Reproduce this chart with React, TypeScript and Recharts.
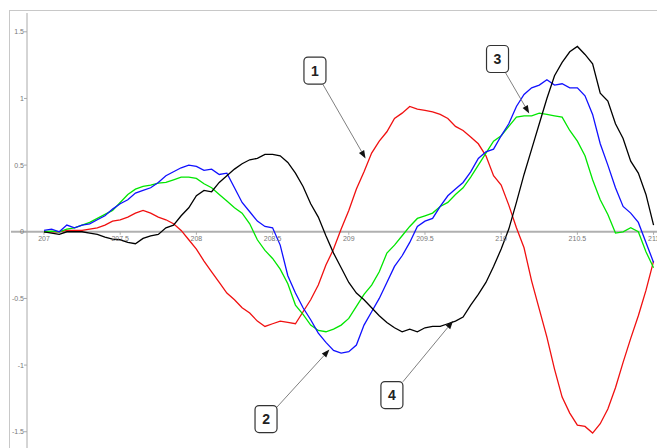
import React from 'react';
import { LineChart, Line, XAxis, YAxis, ReferenceLine, ReferenceDot } from 'recharts';

// sampled every 0.05 from 207 to 211
const red = [
  0, 0, 0, 0.01, 0.01, 0.01, 0.02, 0.03, 0.05, 0.08, 0.09, 0.11, 0.14, 0.16, 0.14, 0.11, 0.09, 0.06, 0.01, -0.06,
  -0.13, -0.22, -0.3, -0.38, -0.46, -0.51, -0.57, -0.61, -0.67, -0.71, -0.69, -0.67, -0.68, -0.69, -0.6, -0.51, -0.4, -0.25, -0.13, 0.02,
  0.16, 0.32, 0.45, 0.59, 0.68, 0.75, 0.85, 0.89, 0.94, 0.92, 0.91, 0.9, 0.88, 0.85, 0.79, 0.76, 0.71, 0.66, 0.57, 0.42,
  0.35, 0.2, 0.03, -0.12, -0.37, -0.58, -0.79, -1.03, -1.24, -1.36, -1.45, -1.46, -1.51, -1.44, -1.33, -1.17, -0.98, -0.8, -0.63, -0.44,
  -0.22,
];
const blue = [
  0.01, 0.02, 0, 0.05, 0.03, 0.05, 0.06, 0.09, 0.12, 0.17, 0.21, 0.24, 0.29, 0.31, 0.33, 0.37, 0.42, 0.45, 0.48, 0.5,
  0.49, 0.46, 0.47, 0.43, 0.44, 0.33, 0.22, 0.15, 0.08, 0.04, 0.03, -0.1, -0.33, -0.46, -0.57, -0.66, -0.76, -0.83, -0.89, -0.91,
  -0.9, -0.85, -0.7, -0.6, -0.5, -0.38, -0.26, -0.18, -0.08, 0.04, 0.08, 0.1, 0.19, 0.27, 0.32, 0.37, 0.45, 0.55, 0.6, 0.62,
  0.72, 0.81, 0.94, 1.03, 1.08, 1.1, 1.14, 1.1, 1.11, 1.08, 1.08, 1.02, 0.88, 0.66, 0.5, 0.33, 0.19, 0.14, 0.07, -0.08,
  -0.23,
];
const green = [
  0, 0.005, 0, 0.02, 0.03, 0.05, 0.07, 0.1, 0.13, 0.16, 0.22, 0.28, 0.32, 0.34, 0.35, 0.365, 0.37, 0.39, 0.41, 0.41,
  0.4, 0.36, 0.33, 0.28, 0.23, 0.18, 0.14, 0.06, -0.06, -0.14, -0.2, -0.28, -0.39, -0.55, -0.62, -0.7, -0.74, -0.75, -0.73, -0.7,
  -0.65, -0.56, -0.47, -0.4, -0.3, -0.16, -0.1, -0.03, 0.04, 0.1, 0.12, 0.14, 0.19, 0.22, 0.28, 0.33, 0.41, 0.5, 0.59, 0.68,
  0.72, 0.79, 0.86, 0.87, 0.87, 0.89, 0.88, 0.87, 0.86, 0.76, 0.68, 0.57, 0.39, 0.24, 0.13, -0.01, 0, 0.03, 0, -0.15,
  -0.27,
];
const black = [
  0, -0.01, -0.02, 0, 0, 0, -0.01, -0.02, -0.04, -0.055, -0.06, -0.08, -0.09, -0.05, -0.03, -0.02, 0.03, 0.05, 0.12, 0.18,
  0.27, 0.31, 0.3, 0.37, 0.42, 0.47, 0.51, 0.54, 0.55, 0.58, 0.58, 0.57, 0.52, 0.44, 0.34, 0.21, 0.11, -0.03, -0.16, -0.27,
  -0.38, -0.46, -0.51, -0.57, -0.63, -0.68, -0.72, -0.75, -0.73, -0.75, -0.72, -0.71, -0.71, -0.69, -0.67, -0.64, -0.55, -0.47, -0.38, -0.26,
  -0.13, 0.02, 0.22, 0.43, 0.62, 0.81, 1.0, 1.17, 1.27, 1.35, 1.39, 1.33, 1.26, 1.04, 0.98, 0.81, 0.7, 0.53, 0.44, 0.28,
  0.05,
];
const xs = red.map((_, i) => +(207 + i * 0.05).toFixed(2));

const xTicks = [207, 207.5, 208, 208.5, 209, 209.5, 210, 210.5, 211];
const yTicks = [-1.5, -1, -0.5, 0, 0.5, 1, 1.5];

// callouts: label, arrow tip, box centre (data coords)
const noteLabels = ['1', '2', '3', '4'];
const noteTips = [[209.11, 0.55], [208.873, -0.884], [210.184, 0.887], [209.684, -0.67]];
const noteBoxes = [[208.778, 1.209], [208.457, -1.405], [209.976, 1.296], [209.283, -1.225]];

const data = xs.map((x, i) => ({ x, red: red[i], blue: blue[i], green: green[i], black: black[i] }));

const BOX_W = 22;
const BOX_H = 27;

const Arrow = (p: any) => {
  const dx = p.x2 - p.x1;
  const dy = p.y2 - p.y1;
  const t = Math.min(BOX_W / 2 / Math.abs(dx || 1e-6), BOX_H / 2 / Math.abs(dy || 1e-6));
  const sx = p.x1 + dx * t;
  const sy = p.y1 + dy * t;
  const len = Math.hypot(dx, dy);
  const ux = dx / len;
  const uy = dy / len;
  const bx = p.x2 - ux * 8;
  const by = p.y2 - uy * 8;
  const head = `${p.x2},${p.y2} ${bx - uy * 3},${by + ux * 3} ${bx + uy * 3},${by - ux * 3}`;
  return (
    <g>
      <line x1={sx} y1={sy} x2={bx} y2={by} stroke="#808080" strokeWidth={1} />
      <polygon points={head} fill="#111" />
    </g>
  );
};

const NoteBox = (label: string) => (p: any) => (
  <g>
    <rect x={p.cx - BOX_W / 2} y={p.cy - BOX_H / 2} width={BOX_W} height={BOX_H} rx={4} fill="#fff" stroke="#333" strokeWidth={1.2} />
    <text x={p.cx} y={p.cy + 5} textAnchor="middle" fontSize={14} fontWeight="bold" fontFamily="Liberation Sans, Arial" fill="#222">
      {label}
    </text>
  </g>
);

const ZeroLine = (p: any) => (
  <line x1={p.x1 - 16} y1={p.y1} x2={p.x2} y2={p.y2} stroke="#b0b0b0" strokeWidth={2} />
);

export default function App() {
  return (
    <div style={{ position: 'absolute', left: 0, top: 0, width: 657, height: 448, overflow: 'hidden', background: '#fff' }}>
      <div
        style={{
          position: 'absolute',
          left: 9,
          top: 10,
          width: 700,
          height: 500,
          borderLeft: '1px solid #c8c8c8',
          borderTop: '1px solid #c8c8c8',
        }}
      />
      <div style={{ position: 'absolute', left: 0, top: 0 }}>
        <LineChart width={657} height={448} data={data} margin={{ top: 13, right: 0, bottom: 0, left: 0 }}>
          <XAxis type="number" dataKey="x" domain={[206.8885, 211.0225]} hide allowDataOverflow />
          <YAxis
            type="number"
            domain={[-1.622, 1.641]}
            ticks={yTicks}
            width={27}
            tickSize={3}
            tickMargin={0}
            allowDataOverflow
            axisLine={{ stroke: '#aaa' }}
            tickLine={{ stroke: '#aaa' }}
            tick={{ fontSize: 7, fill: '#777', fontFamily: 'Liberation Sans, Arial' }}
          />
          <ReferenceLine y={0} shape={ZeroLine} />
          {xTicks.map((t) => (
            <ReferenceLine
              key={t}
              segment={[{ x: t, y: 0 }, { x: t, y: -0.0225 }]}
              stroke="#aaa"
              label={{ value: String(t), position: 'bottom', offset: 1, fontSize: 7, fill: '#777', fontFamily: 'Liberation Sans, Arial' }}
            />
          ))}
          <Line type="linear" dataKey="red" stroke="#f01010" strokeWidth={1.3} dot={false} isAnimationActive={false} />
          <Line type="linear" dataKey="green" stroke="#00e600" strokeWidth={1.3} dot={false} isAnimationActive={false} />
          <Line type="linear" dataKey="blue" stroke="#1010ff" strokeWidth={1.3} dot={false} isAnimationActive={false} />
          <Line type="linear" dataKey="black" stroke="#000" strokeWidth={1.3} dot={false} isAnimationActive={false} />
          {noteLabels.map((lab, i) => (
            <ReferenceLine
              key={'a' + lab}
              segment={[
                { x: noteBoxes[i][0], y: noteBoxes[i][1] },
                { x: noteTips[i][0], y: noteTips[i][1] },
              ]}
              shape={Arrow}
            />
          ))}
          {noteLabels.map((lab, i) => (
            <ReferenceDot key={'b' + lab} x={noteBoxes[i][0]} y={noteBoxes[i][1]} r={1} shape={NoteBox(lab)} />
          ))}
        </LineChart>
      </div>
    </div>
  );
}
